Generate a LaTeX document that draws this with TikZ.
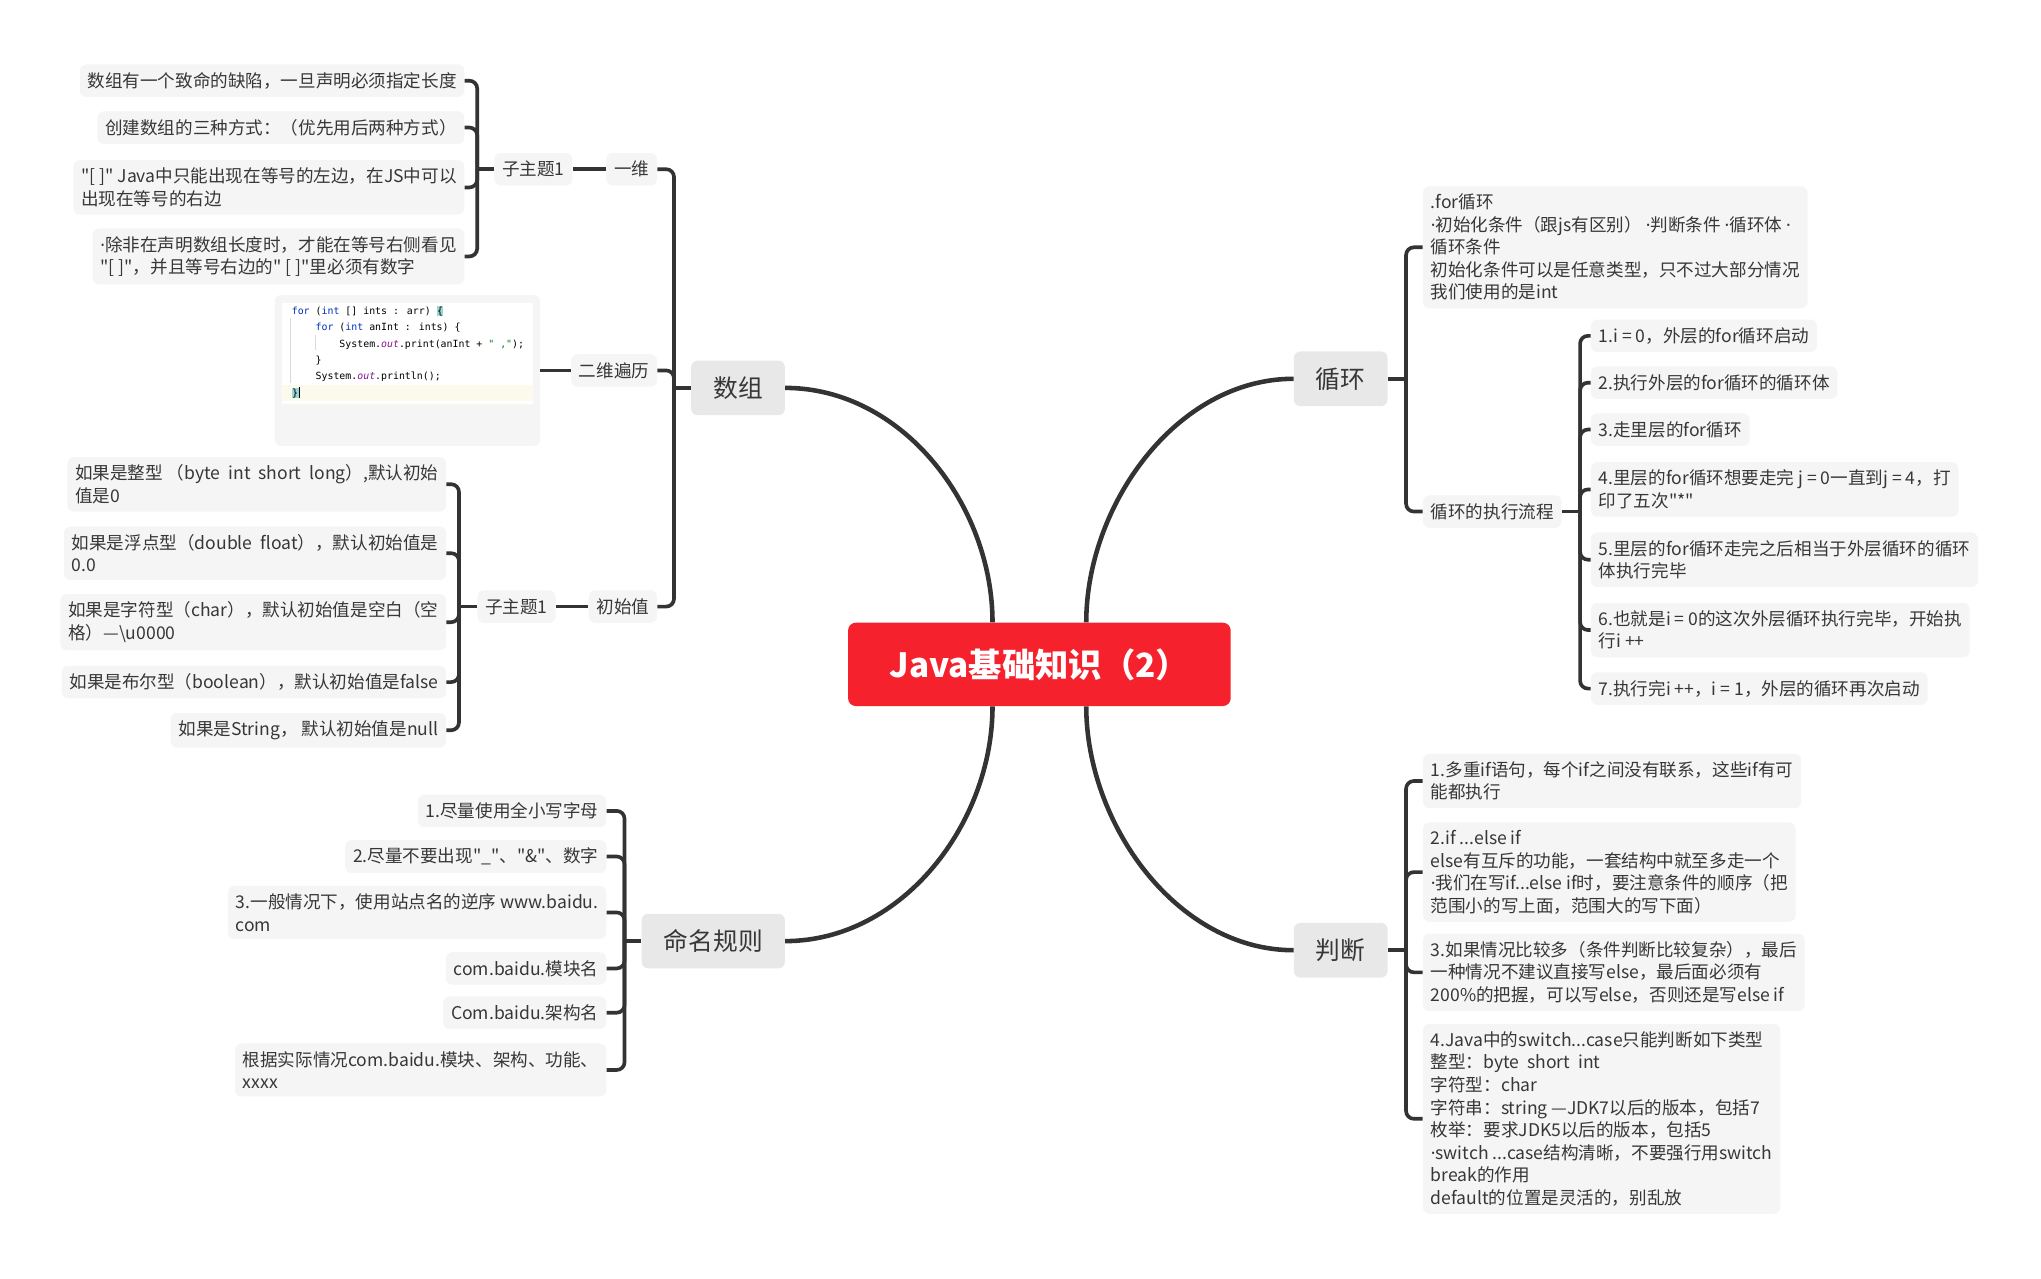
\documentclass[tikz,border=0pt]{standalone}
\usepackage{fontspec}
\setmainfont{Noto Sans CJK SC}[Ligatures=TeXOff]
\newfontfamily\codefont{DejaVu Sans Mono}
\newfontfamily\latinfont{Noto Sans}
\usetikzlibrary{calc}
\definecolor{rootred}{RGB}{245,34,45}
\definecolor{maingray}{RGB}{232,232,232}
\definecolor{leafgray}{RGB}{245,245,245}
\definecolor{textgray}{RGB}{55,55,55}
\definecolor{linegray}{RGB}{51,51,51}
\definecolor{kwblue}{RGB}{0,51,179}
\definecolor{kwpurple}{RGB}{135,16,148}
\definecolor{kwgreen}{RGB}{6,125,23}
\definecolor{bracecyan}{RGB}{153,213,213}
\definecolor{rowyellow}{RGB}{252,250,237}
\tikzset{
  root topic/.style={rounded corners=6pt, fill=rootred, text=white, minimum width=294pt, minimum height=64pt, font=\fontsize{25.6}{30}\selectfont\bfseries},
  main topic/.style={rounded corners=5pt, fill=maingray, text=textgray, minimum height=42pt, inner xsep=17pt, font=\fontsize{19}{23}\selectfont},
  sub topic/.style={rounded corners=5pt, fill=leafgray, text=textgray, minimum height=25pt, inner xsep=6pt, inner ysep=6pt, align=left, font=\fontsize{13.5}{17.3}\selectfont},
  code card/.style={rounded corners=5pt, fill=leafgray, minimum width=204pt, minimum height=116pt},
  code text/.style={anchor=base west, inner sep=0pt, font=\codefont\fontsize{7.6}{9}\selectfont},
  main curve/.style={line width=3.5pt, draw=linegray},
  branch line/.style={line width=2.8pt, draw=linegray, rounded corners=6pt},
}
\newcommand{\hlBrace}[1]{{\setlength\fboxsep{0.3pt}\colorbox{bracecyan}{#1}}}
\newcommand{\codeLine}[4]{\node[code text] (#1) at (#2,#3) {#4};}
\newcommand{\md}{{\latinfont ·}}

\begin{document}
\begin{tikzpicture}[x=1pt, y=-1pt]
  \useasboundingbox (0,0) rectangle (1568,982);

  % centre and main topics
  \node[root topic] (root) at (798.5,510.4) {Java基础知识（2）};
  \node[main topic] (shuzu) at (567,298) {数组};
  \node[main topic] (mingming) at (548,723) {命名规则};
  \node[main topic] (xunhuan) at (1030,291) {循环};
  \node[main topic] (panduan) at (1030,730) {判断};

  \draw[main curve] ($(root.north)+(-36,0)$) .. controls +(0,-90) and +(90,0) .. (shuzu.east);
  \draw[main curve] ($(root.south)+(-36,0)$) .. controls +(0,90) and +(90,0) .. (mingming.east);
  \draw[main curve] ($(root.north)+(36,0)$) .. controls +(0,-90) and +(-90,0) .. (xunhuan.west);
  \draw[main curve] ($(root.south)+(36,0)$) .. controls +(0,90) and +(-90,0) .. (panduan.west);

  % 数组
  \node[sub topic, anchor=east] (yiwei) at (505,130) {一维};
  \node[sub topic, anchor=east] (erwei) at (505,284.6) {二维遍历};
  \node[sub topic, anchor=east] (chushi) at (505,466) {初始值};
  \node[sub topic, anchor=east] (zza) at (440,130) {子主题1};
  \node[sub topic, anchor=east] (zzb) at (427,466) {子主题1};

  \node[sub topic, anchor=east] (a1) at (357,62) {数组有一个致命的缺陷，一旦声明必须指定长度};
  \node[sub topic, anchor=east] (a2) at (357,98) {创建数组的三种方式：（优先用后两种方式）};
  \node[sub topic, anchor=east] (a3) at (357,144) {"[ ]" Java中只能出现在等号的左边，在JS中可以\\出现在等号的右边};
  \node[sub topic, anchor=east] (a4) at (357,197) {\md 除非在声明数组长度时，才能在等号右侧看见\\"[ ]"，并且等号右边的" [ ]"里必须有数字};

  \node[sub topic, anchor=east] (b1) at (343,372) {如果是整型 （byte\ \ int\ \ short\ \ long）,默认初始\\值是0};
  \node[sub topic, anchor=east] (b2) at (343,425) {如果是浮点型（double\ \ float），默认初始值是\\0.0};
  \node[sub topic, anchor=east] (b3) at (343,478) {如果是字符型（char），默认初始值是空白（空\\格）—\textbackslash u0000};
  \node[sub topic, anchor=east] (b4) at (343,524) {如果是布尔型（boolean），默认初始值是false};
  \node[sub topic, anchor=east] (b5) at (343,561) {如果是String， 默认初始值是null};

  % code screenshot
  \node[code card] (erweicode) at (313,284.6) {};
  \fill[white] (217,232.5) rectangle (409.5,310);
  \fill[rowyellow] (217,295.5) rectangle (409.5,308);
  \draw[gray!30, line width=0.4pt] (223,244) -- (223,294) (242,257) -- (242,269);
  \codeLine{code1}{224}{241.5}{\textcolor{kwblue}{for} (\textcolor{kwblue}{int} [] ints : arr) \hlBrace{\{}}
  \codeLine{code2}{242.3}{254.1}{\textcolor{kwblue}{for} (\textcolor{kwblue}{int} anInt : ints) \{}
  \codeLine{code3}{260.6}{266.7}{System.\textcolor{kwpurple}{\itshape out}.print(anInt + \textcolor{kwgreen}{" ,"});}
  \codeLine{code4}{242.3}{279.3}{\}}
  \codeLine{code5}{242.3}{291.8}{System.\textcolor{kwpurple}{\itshape out}.println();}
  \codeLine{code6}{224}{304.4}{\hlBrace{\}}\rule[-1.5pt]{0.5pt}{8.5pt}}

  \coordinate (shuzu-br) at ($(shuzu.west)+(-13,0)$);
  \draw[branch line] (shuzu.west) -- (shuzu-br);
  \foreach \c in {yiwei,erwei,chushi} \draw[branch line] (shuzu-br) |- (\c.east);
  \draw[branch line] (yiwei.west) -- (zza.east);
  \draw[branch line] (erwei.west) -- (erweicode.east);
  \draw[branch line] (chushi.west) -- (zzb.east);

  \coordinate (zza-br) at ($(zza.west)+(-13,0)$);
  \draw[branch line] (zza.west) -- (zza-br);
  \foreach \c in {a1,a2,a3,a4} \draw[branch line] (zza-br) |- (\c.east);

  \coordinate (zzb-br) at ($(zzb.west)+(-14,0)$);
  \draw[branch line] (zzb.west) -- (zzb-br);
  \foreach \c in {b1,b2,b3,b4,b5} \draw[branch line] (zzb-br) |- (\c.east);

  % 命名规则
  \node[sub topic, anchor=east] (c1) at (466,623) {1.尽量使用全小写字母};
  \node[sub topic, anchor=east] (c2) at (466,658) {2.尽量不要出现"\_"、"\&"、数字};
  \node[sub topic, anchor=east] (c3) at (466,701) {3.一般情况下，使用站点名的逆序 www.baidu.\\com};
  \node[sub topic, anchor=east] (c4) at (466,744) {com.baidu.模块名};
  \node[sub topic, anchor=east] (c5) at (466,778) {Com.baidu.架构名};
  \node[sub topic, anchor=east] (c6) at (466,822) {根据实际情况com.baidu.模块、架构、功能、\\xxxx};

  \coordinate (mingming-br) at ($(mingming.west)+(-13,0)$);
  \draw[branch line] (mingming.west) -- (mingming-br);
  \foreach \c in {c1,c2,c3,c4,c5,c6} \draw[branch line] (mingming-br) |- (\c.east);

  % 循环
  \node[sub topic, anchor=west] (d1) at (1093,190) {.for循环\\\md 初始化条件（跟js有区别）\ \md 判断条件\ \md 循环体\ \md\\循环条件\\初始化条件可以是任意类型，只不过大部分情况\\我们使用的是int};
  \node[sub topic, anchor=west] (liucheng) at (1093,393) {循环的执行流程};

  \node[sub topic, anchor=west] (e1) at (1222,258) {1.i = 0，外层的for循环启动};
  \node[sub topic, anchor=west] (e2) at (1222,294) {2.执行外层的for循环的循环体};
  \node[sub topic, anchor=west] (e3) at (1222,330) {3.走里层的for循环};
  \node[sub topic, anchor=west] (e4) at (1222,376) {4.里层的for循环想要走完 j = 0一直到j = 4，打\\印了五次"*"};
  \node[sub topic, anchor=west] (e5) at (1222,430) {5.里层的for循环走完之后相当于外层循环的循环\\体执行完毕};
  \node[sub topic, anchor=west] (e6) at (1222,484) {6.也就是i = 0的这次外层循环执行完毕，开始执\\行i ++};
  \node[sub topic, anchor=west] (e7) at (1222,529) {7.执行完i ++，i = 1，外层的循环再次启动};

  \coordinate (xunhuan-br) at ($(xunhuan.east)+(14,0)$);
  \draw[branch line] (xunhuan.east) -- (xunhuan-br);
  \foreach \c in {d1,liucheng} \draw[branch line] (xunhuan-br) |- (\c.west);

  \coordinate (liucheng-br) at ($(liucheng.east)+(14,0)$);
  \draw[branch line] (liucheng.east) -- (liucheng-br);
  \foreach \c in {e1,e2,e3,e4,e5,e6,e7} \draw[branch line] (liucheng-br) |- (\c.west);

  % 判断
  \node[sub topic, anchor=west] (f1) at (1093,600) {1.多重if语句，每个if之间没有联系，这些if有可\\能都执行};
  \node[sub topic, anchor=west] (f2) at (1093,670) {2.if ...else if\\else有互斥的功能，一套结构中就至多走一个\\\md 我们在写if...else if时，要注意条件的顺序（把\\范围小的写上面，范围大的写下面）};
  \node[sub topic, anchor=west] (f3) at (1093,747) {3.如果情况比较多（条件判断比较复杂），最后\\一种情况不建议直接写else，最后面必须有\\200\%的把握，可以写else，否则还是写else if};
  \node[sub topic, anchor=west] (f4) at (1093,859.5) {4.Java中的switch...case只能判断如下类型\\整型：byte\ \ short\ \ int\\字符型：char\\字符串：string —JDK7以后的版本，包括7\\枚举：要求JDK5以后的版本，包括5\\\md switch ...case结构清晰，不要强行用switch\\break的作用\\default的位置是灵活的，别乱放};

  \coordinate (panduan-br) at ($(panduan.east)+(14,0)$);
  \draw[branch line] (panduan.east) -- (panduan-br);
  \foreach \c in {f1,f2,f3,f4} \draw[branch line] (panduan-br) |- (\c.west);
\end{tikzpicture}
\end{document}
